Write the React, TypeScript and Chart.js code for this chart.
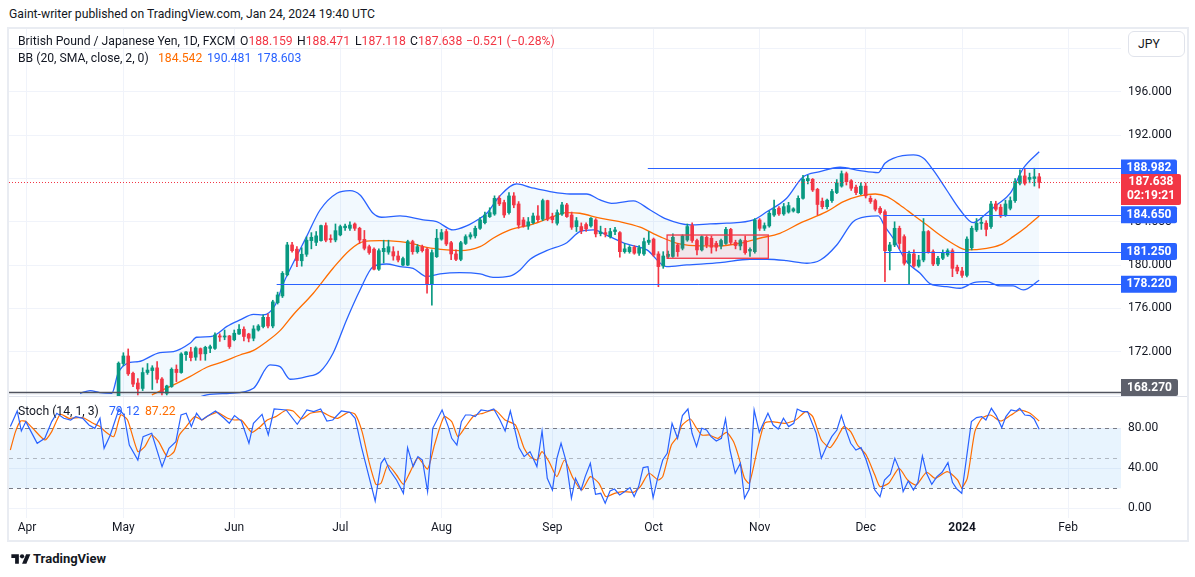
import React, { useEffect, useRef } from 'react';
import { Chart, registerables } from 'chart.js';

Chart.register(...registerables);

const FONT = 'Roboto, "Noto Sans", "DejaVu Sans", sans-serif';
const UP = '#089981';
const DOWN = '#f23645';
const BLUE = '#2962ff';
const ORANGE = '#ff6d00';
const TEXT = '#131722';
const GRID = '#f0f3fa';
const LEGEND_SIZE = 12.2;

// bar numbers (trading days counted from 27 Mar 2023); first visible candle is bar 24
const FIRST_BAR = 24;

const opens = [
  167.6, 170.9, 171.6, 170.0, 169.1, 168.6, 170.07, 170.25, 170.5, 169.47,
  168.15, 168.77, 170.37, 170.07, 171.72, 171.97, 171.49, 172.28, 171.8, 172.3,
  172.3, 173.45, 173.35, 173.45, 173.1, 173.63, 174.07, 173.63, 173.24, 174.0,
  174.32, 175.17, 174.37, 176.53, 177.15, 179.1, 181.86, 181.47, 180.4, 181.0,
  182.26, 182.1, 182.26, 183.65, 182.45, 182.32, 182.79, 183.45, 183.4, 183.8,
  183.4, 182.38, 181.7, 181.47, 179.62, 181.24, 181.2, 181.24, 180.84, 180.0,
  180.0, 182.17, 181.24, 181.7, 181.47, 178.26, 180.78, 182.4, 183.1, 182.07,
  181.03, 180.53, 182.0, 182.6, 182.7, 183.4, 183.92, 184.48, 184.72, 186.17,
  185.78, 184.85, 186.39, 185.65, 184.17, 183.6, 183.92, 184.54, 184.24, 185.96,
  184.5, 183.87, 184.72, 185.56, 184.63, 183.55, 183.56, 183.75, 183.62, 184.17,
  182.9, 183.0, 182.63, 183.1, 183.0, 181.24, 181.24, 181.65, 181.1, 181.03,
  182.1, 182.4, 181.03, 179.92, 180.8, 180.8, 181.86, 181.55, 182.32, 183.66,
  182.27, 181.4, 182.57, 182.48, 182.0, 181.77, 182.0, 183.3, 182.1, 181.77,
  182.27, 181.3, 181.24, 184.17, 183.4, 183.62, 184.63, 185.26, 184.73, 184.9,
  185.0, 184.85, 186.17, 187.8, 187.93, 187.0, 185.9, 185.4, 185.96, 186.7,
  187.3, 188.45, 187.8, 187.2, 186.6, 187.3, 186.17, 185.96, 185.25, 184.94,
  181.33, 181.86, 183.4, 182.63, 180.17, 181.03, 179.92, 180.47, 183.1, 181.24,
  180.1, 180.63, 180.94, 181.33, 179.8, 179.45, 179.05, 181.6, 183.25, 183.85,
  183.87, 183.56, 185.65, 185.35, 184.63, 185.25, 185.96, 187.56, 188.24, 187.93,
  188.0, 188.159,
];
const highs = [
  171.05, 171.9, 172.25, 170.1, 169.5, 170.5, 170.9, 170.7, 171.08, 169.6,
  168.9, 170.5, 170.77, 171.9, 172.0, 172.4, 172.45, 172.34, 172.5, 172.6,
  173.75, 173.65, 174.0, 173.5, 174.0, 174.5, 174.3, 173.7, 174.4, 174.5,
  175.4, 175.5, 176.75, 177.5, 179.4, 182.1, 182.1, 181.7, 181.6, 182.6,
  183.0, 183.1, 183.7, 183.9, 182.8, 183.8, 183.7, 183.8, 184.0, 183.9,
  183.5, 183.2, 181.85, 181.6, 181.5, 182.3, 182.3, 181.7, 181.3, 180.75,
  182.3, 182.3, 181.9, 181.85, 181.6, 181.4, 183.3, 183.3, 183.3, 182.2,
  181.4, 182.2, 182.8, 183.0, 183.6, 184.4, 184.9, 185.3, 186.4, 186.4,
  186.0, 186.7, 186.7, 185.87, 184.4, 184.4, 184.8, 185.5, 186.1, 186.0,
  184.8, 185.1, 185.8, 185.7, 184.9, 184.4, 183.9, 183.9, 184.4, 184.3,
  183.6, 183.4, 183.4, 183.5, 183.1, 182.0, 181.8, 181.8, 181.8, 182.5,
  183.1, 182.5, 181.24, 181.24, 181.3, 182.9, 182.0, 182.8, 183.8, 183.9,
  182.4, 182.7, 182.7, 182.7, 182.2, 182.4, 183.5, 183.4, 182.3, 182.4,
  182.7, 181.6, 184.3, 184.3, 183.9, 185.0, 186.0, 185.4, 185.7, 185.8,
  185.3, 186.4, 188.3, 188.3, 188.0, 187.1, 186.2, 186.1, 187.0, 187.9,
  188.7, 188.6, 187.9, 187.4, 187.6, 187.6, 186.4, 186.1, 185.4, 185.1,
  182.1, 184.0, 183.6, 182.8, 181.3, 181.4, 180.9, 184.3, 183.2, 181.4,
  180.8, 181.4, 181.5, 181.5, 180.0, 179.8, 182.6, 183.6, 184.3, 184.4,
  184.1, 185.9, 185.9, 185.6, 186.0, 186.3, 188.0, 188.8, 188.9, 188.5,
  188.95, 188.471,
];
const lows = [
  167.4, 170.7, 169.8, 168.77, 168.0, 168.4, 169.9, 168.5, 169.1, 168.0,
  168.0, 168.7, 169.23, 170.0, 171.2, 171.14, 171.2, 171.2, 171.2, 171.9,
  172.2, 172.95, 173.1, 172.3, 173.0, 173.6, 173.0, 172.9, 173.0, 173.9,
  174.2, 174.2, 174.2, 176.4, 177.0, 179.0, 181.2, 179.86, 179.9, 180.8,
  181.5, 181.8, 182.2, 182.15, 182.1, 182.15, 182.7, 183.2, 183.2, 183.2,
  182.0, 181.4, 181.0, 179.55, 179.5, 180.2, 181.0, 180.45, 180.3, 179.95,
  179.95, 181.0, 181.1, 181.2, 177.4, 176.3, 180.7, 182.3, 181.8, 180.5,
  180.4, 180.4, 181.9, 182.4, 182.5, 183.3, 183.8, 184.4, 184.6, 185.5,
  184.4, 184.7, 185.3, 183.4, 183.5, 183.3, 183.8, 184.0, 184.1, 184.1,
  183.9, 183.7, 184.6, 184.4, 183.3, 183.1, 182.9, 183.1, 183.5, 182.6,
  182.7, 182.6, 182.5, 182.8, 180.73, 181.1, 181.1, 181.0, 180.9, 180.9,
  181.9, 180.8, 178.0, 179.7, 180.6, 180.7, 180.8, 181.4, 182.2, 182.1,
  180.94, 181.3, 181.6, 181.1, 181.3, 181.5, 181.9, 181.9, 181.5, 181.4,
  181.0, 180.8, 181.1, 183.2, 183.2, 183.5, 184.5, 184.6, 184.6, 184.8,
  184.9, 184.8, 186.1, 187.5, 186.8, 184.63, 185.2, 185.2, 185.8, 186.6,
  187.2, 187.4, 186.9, 186.5, 186.5, 186.2, 185.7, 185.0, 184.7, 178.47,
  179.55, 181.7, 181.5, 180.0, 178.26, 179.8, 179.8, 180.3, 181.1, 179.95,
  179.95, 180.5, 180.8, 178.93, 179.2, 178.85, 178.9, 181.4, 183.1, 183.3,
  182.7, 183.4, 185.0, 184.4, 184.5, 185.1, 185.8, 187.4, 187.4, 187.6,
  187.3, 187.118,
];
const closes = [
  170.93, 171.6, 169.95, 169.0, 168.55, 170.07, 170.3, 170.5, 169.45, 168.2,
  168.83, 170.37, 170.07, 171.79, 171.97, 171.45, 172.34, 171.79, 172.4, 172.46,
  173.54, 173.35, 173.45, 172.47, 173.7, 174.07, 173.4, 173.24, 174.1, 174.37,
  175.17, 174.37, 176.6, 177.24, 179.24, 181.86, 181.33, 180.42, 181.0, 182.3,
  182.57, 182.7, 183.65, 182.3, 182.35, 183.18, 183.56, 183.6, 183.7, 183.4,
  182.32, 181.55, 181.16, 179.62, 181.33, 181.55, 181.7, 180.84, 180.47, 180.6,
  182.17, 181.24, 181.7, 181.33, 178.26, 181.15, 182.48, 183.0, 181.95, 181.03,
  180.53, 182.07, 182.63, 182.8, 183.4, 184.17, 184.63, 184.85, 186.17, 185.66,
  184.63, 186.39, 185.56, 183.7, 183.6, 184.0, 184.54, 184.2, 185.96, 184.24,
  184.2, 184.85, 185.56, 184.48, 183.5, 184.1, 183.18, 183.35, 184.33, 182.88,
  183.05, 182.85, 183.1, 183.25, 181.24, 181.5, 181.65, 181.1, 181.6, 182.17,
  182.3, 180.94, 179.86, 180.84, 181.0, 182.57, 181.24, 182.7, 183.56, 182.27,
  181.4, 182.63, 181.86, 181.65, 181.65, 182.27, 183.3, 182.1, 181.8, 182.27,
  181.15, 181.45, 184.17, 183.4, 183.65, 184.79, 185.16, 184.73, 185.4, 185.5,
  185.2, 186.17, 187.93, 188.0, 186.94, 185.6, 185.4, 186.0, 186.8, 187.6,
  188.45, 187.7, 187.1, 186.7, 187.3, 186.4, 185.87, 185.16, 184.85, 181.33,
  181.86, 183.4, 182.0, 180.17, 181.03, 179.92, 180.47, 183.1, 181.24, 180.1,
  180.63, 181.15, 181.33, 179.7, 179.45, 179.05, 182.4, 183.4, 183.87, 183.95,
  183.3, 185.65, 185.16, 184.54, 185.65, 185.96, 187.72, 188.24, 187.56, 188.1,
  188.16, 187.638,
];

// Bollinger Bands: [bar, price]
const bbUpper: [number, number][] = [
  [16.0, 168.15], [18.1, 168.39], [20.1, 168.21], [22.6, 168.15], [23.9, 170.0], [26.4, 171.0],
  [28.1, 171.07], [32.6, 171.91], [35.4, 172.0], [38.8, 172.77], [40.2, 173.33], [43.0, 173.38],
  [44.4, 173.63], [46.4, 174.31], [49.2, 174.93], [52.0, 175.45], [54.0, 175.39], [56.5, 176.31],
  [58.2, 178.32], [60.2, 180.17], [63.0, 182.63], [65.8, 185.09], [69.3, 186.64], [72.0, 186.88],
  [74.1, 186.48], [76.8, 184.79], [78.6, 184.42], [82.4, 184.54], [87.2, 184.17], [90.0, 184.01],
  [93.4, 183.25], [96.2, 183.62], [99.0, 184.33], [100.4, 184.79], [103.1, 186.39], [106.6, 187.5],
  [109.4, 187.19], [113.5, 186.79], [117.7, 186.57], [121.1, 186.57], [123.9, 186.02], [126.3, 185.71],
  [130.8, 185.93], [134.3, 185.09], [137.7, 184.24], [142.6, 183.71], [146.7, 183.8], [150.2, 183.87],
  [155.7, 184.17], [158.4, 184.9], [162.6, 186.18], [165.9, 188.1], [169.5, 188.63], [173.7, 189.04],
  [177.8, 188.73], [181.6, 188.54], [183.0, 189.41], [184.7, 189.87], [188.9, 190.18], [191.0, 189.87],
  [193.0, 188.79], [195.8, 186.94], [198.6, 185.09], [201.3, 183.92], [204.1, 184.79], [206.2, 185.56],
  [209.0, 186.64], [211.7, 188.95], [215.0, 190.481],
];
const bbBasis: [number, number][] = [
  [30.9, 168.0], [34.0, 168.62], [38.8, 169.69], [42.3, 170.56], [45.7, 171.07], [49.2, 171.69],
  [51.9, 172.09], [54.7, 172.92], [57.5, 173.94], [60.2, 175.39], [64.4, 177.4], [68.5, 179.71],
  [72.0, 181.4], [74.8, 182.16], [78.2, 182.26], [82.4, 182.16], [85.1, 181.95], [87.9, 181.64],
  [92.1, 181.4], [94.8, 181.33], [99.0, 181.7], [101.7, 182.48], [105.2, 183.25], [109.4, 183.71],
  [112.8, 184.24], [117.0, 184.85], [119.7, 184.79], [123.9, 184.33], [128.0, 184.01], [132.2, 183.5],
  [136.3, 182.63], [140.4, 181.95], [144.6, 181.77], [148.7, 181.77], [152.9, 182.02], [157.0, 182.48],
  [161.2, 182.94], [165.5, 183.9], [170.9, 184.94], [174.4, 185.86], [177.8, 186.39], [181.0, 186.57],
  [183.4, 186.32], [186.1, 185.56], [188.9, 184.63], [191.7, 183.71], [194.4, 182.78], [197.2, 181.95],
  [200.0, 181.4], [204.1, 181.55], [206.9, 181.86], [209.6, 182.63], [212.4, 183.55], [215.0, 184.542],
];
const bbLower: [number, number][] = [
  [16.0, 164.0], [30.0, 165.0], [42.3, 168.0], [47.1, 168.15], [52.0, 168.62], [55.4, 170.77],
  [57.5, 170.61], [59.6, 169.45], [63.0, 169.69], [65.8, 170.15], [68.5, 171.85], [71.3, 174.93],
  [74.1, 177.7], [76.8, 179.85], [79.6, 180.1], [82.4, 179.85], [85.1, 179.7], [87.9, 178.93],
  [90.7, 179.18], [94.8, 179.3], [99.0, 179.18], [101.7, 178.87], [105.2, 178.99], [107.3, 179.55],
  [109.4, 180.54], [112.8, 181.33], [117.0, 182.07], [119.7, 183.09], [122.5, 183.25], [125.9, 182.63],
  [129.4, 181.95], [133.6, 181.4], [137.7, 179.85], [141.9, 180.01], [148.8, 180.22], [155.0, 180.54],
  [158.5, 180.54], [162.6, 180.41], [166.8, 180.17], [169.6, 180.47], [173.0, 181.86], [176.4, 184.01],
  [179.2, 184.48], [181.6, 184.54], [183.0, 183.55], [184.7, 182.48], [187.5, 180.32], [190.3, 179.24],
  [192.4, 178.26], [195.8, 178.01], [198.6, 177.86], [201.4, 178.38], [204.1, 178.47], [206.9, 178.07],
  [209.6, 178.07], [211.7, 177.7], [215.0, 178.603],
];

// Stochastic (14, 1, 3): [bar, value]
const stochK: [number, number][] = [
  [1.55, 81.7], [2.98, 97.3], [3.83, 77.3], [4.77, 86.7], [5.84, 76.7], [7.12, 65.0], [8.7, 70.0],
  [10.13, 86.7], [11.2, 95.0], [12.63, 90.0], [14.06, 88.3], [15.14, 91.7], [16.57, 90.0], [17.86, 83.3],
  [19.07, 80.0], [20.15, 90.0], [21.0, 60.0], [22.29, 73.3], [24.08, 99.3], [25.15, 93.3], [26.23, 63.3],
  [28.0, 48.3], [29.09, 71.7], [30.88, 75.0], [33.02, 41.7], [34.45, 60.0], [35.89, 66.7], [36.96, 93.3],
  [38.03, 95.0], [39.1, 81.7], [40.18, 95.0], [41.25, 88.3], [42.32, 91.7], [44.11, 97.3], [45.9, 90.0],
  [46.97, 85.0], [48.05, 92.7], [49.48, 87.3], [51.05, 65.0], [51.98, 85.0], [53.77, 94.0], [55.06, 73.3],
  [56.27, 99.3], [58.78, 98.3], [61.07, 84.0], [63.07, 98.3], [64.5, 96.7], [65.93, 99.3], [67.22, 87.3],
  [68.44, 88.3], [70.22, 97.3], [72.01, 96.0], [73.09, 90.0], [74.37, 61.7], [75.95, 31.7], [77.24, 7.3],
  [78.45, 45.0], [79.17, 50.0], [80.24, 38.3], [81.67, 28.3], [83.1, 15.0], [83.96, 60.7], [85.11, 41.7],
  [86.11, 51.7], [87.04, 48.3], [88.11, 16.7], [89.18, 80.0], [91.12, 98.3], [92.4, 81.7], [93.12, 70.0],
  [94.19, 63.3], [95.12, 86.7], [95.98, 93.3], [97.05, 93.3], [97.98, 91.7], [99.2, 98.3], [100.63, 97.3],
  [101.84, 99.3], [103.13, 88.3], [104.2, 77.3], [105.28, 97.3], [105.99, 83.3], [107.07, 60.7], [108.14, 51.7],
  [109.36, 56.7], [110.79, 41.7], [111.86, 77.3], [112.94, 30.0], [114.01, 18.3], [114.94, 50.0], [115.8, 65.0],
  [116.87, 46.7], [117.95, 10.0], [118.8, 30.0], [119.95, 18.3], [120.81, 31.7], [121.88, 45.0], [122.95, 14.0],
  [124.03, 15.0], [124.96, 5.0], [125.96, 17.3], [126.89, 19.3], [127.96, 13.3], [129.03, 16.7], [130.11, 20.7],
  [130.97, 11.7], [131.9, 21.7], [132.83, 40.7], [133.83, 41.7], [134.9, 10.7], [135.83, 30.0], [136.9, 48.3],
  [137.83, 55.0], [138.83, 85.0], [139.98, 70.0], [140.98, 92.7], [142.13, 99.3], [142.98, 75.0], [143.91, 61.7],
  [144.99, 80.0], [145.99, 78.3], [146.92, 71.7], [148.0, 67.3], [149.07, 70.0], [149.92, 89.3], [150.85, 58.3],
  [151.93, 35.0], [153.0, 45.0], [153.86, 10.0], [154.86, 19.3], [155.86, 98.3], [156.93, 76.0], [158.72, 95.0],
  [159.8, 83.3], [160.87, 79.3], [161.94, 90.0], [163.02, 81.7], [164.09, 85.0], [164.8, 99.3], [165.88, 96.7],
  [166.95, 96.7], [168.74, 75.0], [169.81, 50.0], [170.88, 61.7], [171.96, 71.7], [173.03, 78.3], [173.96, 92.7],
  [175.03, 76.7], [175.89, 65.0], [176.97, 58.3], [178.04, 60.7], [179.11, 48.3], [180.18, 31.7], [180.9, 18.3],
  [181.97, 11.7], [182.9, 28.3], [184.12, 34.0], [185.05, 50.0], [185.91, 40.0], [186.77, 16.7], [187.84, 27.3],
  [188.91, 18.3], [189.84, 26.0], [190.77, 52.3], [191.63, 35.0], [192.71, 24.0], [193.78, 31.7], [194.85, 36.0],
  [196.07, 45.7], [197.0, 26.0], [197.93, 19.3], [198.93, 15.0], [199.86, 48.3], [200.93, 86.7], [202.01, 90.7],
  [203.08, 91.7], [203.94, 88.3], [205.08, 100.0], [206.09, 92.7], [207.23, 80.7], [208.09, 91.7], [209.16, 98.3],
  [210.23, 97.3], [210.95, 100.0], [212.02, 93.3], [213.1, 92.7], [213.95, 89.3], [215.0, 79.12],
];
const stochD: [number, number][] = [
  [1.55, 58.3], [2.62, 76.7], [3.69, 87.3], [4.77, 86.7], [6.2, 80.0], [8.7, 68.3], [10.13, 76.7],
  [11.92, 94.0], [13.71, 90.0], [16.57, 90.7], [18.72, 85.0], [20.15, 81.7], [21.22, 76.7], [23.01, 71.7],
  [24.44, 93.3], [25.87, 88.3], [28.0, 56.7], [29.45, 61.7], [30.88, 73.3], [32.31, 66.7], [34.1, 51.7],
  [35.53, 56.7], [36.6, 73.3], [38.03, 81.7], [39.82, 91.7], [41.25, 88.3], [42.32, 91.7], [44.47, 96.0],
  [46.62, 90.0], [48.05, 88.3], [49.48, 88.3], [51.62, 76.0], [53.41, 81.7], [54.84, 88.3], [56.63, 91.7],
  [58.78, 98.3], [60.21, 97.3], [62.0, 89.3], [63.79, 95.0], [65.93, 96.7], [68.08, 91.7], [69.51, 90.0],
  [71.66, 96.0], [73.09, 94.0], [74.52, 76.7], [75.95, 46.7], [77.38, 24.0], [78.45, 25.0], [79.88, 43.3],
  [81.67, 33.3], [83.1, 24.0], [84.53, 36.7], [86.11, 50.7], [88.11, 39.3], [89.54, 63.3], [91.54, 91.7],
  [93.12, 86.7], [94.4, 71.7], [95.98, 81.7], [97.77, 92.7], [99.56, 95.0], [102.06, 98.3], [104.2, 88.3],
  [106.35, 83.3], [108.14, 60.0], [109.36, 51.7], [110.79, 48.3], [111.86, 56.7], [113.3, 46.7], [114.94, 31.7],
  [116.51, 48.3], [118.3, 30.0], [120.09, 18.3], [121.88, 31.7], [123.67, 25.0], [125.1, 11.7], [126.89, 15.0],
  [128.68, 16.7], [130.82, 16.0], [132.25, 21.7], [134.04, 35.0], [135.97, 28.3], [136.9, 31.7], [138.69, 63.3],
  [139.98, 71.7], [140.84, 82.7], [142.63, 89.3], [143.7, 81.7], [144.99, 73.3], [146.56, 73.3], [148.35, 70.0],
  [150.14, 76.0], [151.57, 66.7], [152.64, 51.7], [153.86, 30.0], [154.86, 25.0], [156.58, 60.0], [158.01, 85.0],
  [159.44, 86.7], [162.3, 85.0], [164.45, 88.3], [166.59, 96.7], [168.02, 91.7], [169.81, 68.3], [171.6, 60.7],
  [173.03, 70.0], [174.46, 81.7], [175.89, 76.7], [177.32, 63.3], [179.11, 53.3], [180.9, 33.3], [181.97, 21.7],
  [183.76, 25.0], [185.91, 40.0], [187.7, 28.3], [189.48, 23.3], [191.63, 36.0], [193.42, 30.0], [195.92, 36.7],
  [198.07, 28.3], [198.93, 20.7], [200.08, 30.0], [201.65, 76.7], [203.08, 90.0], [204.87, 93.3], [207.02, 87.3],
  [209.16, 93.3], [210.95, 98.3], [213.1, 95.0], [215.0, 87.22],
];

const monthTickBars = [5, 25, 48, 70, 91, 114, 135, 157, 179, 199, 221];
const monthLabels = ['Apr', 'May', 'Jun', 'Jul', 'Aug', 'Sep', 'Oct', 'Nov', 'Dec', '2024', 'Feb'];
const priceTicks = [168, 172, 176, 180, 184, 188, 192, 196, 200];
const stochTicks = [0, 40, 80];

// drawings
const levelPrices = [188.982, 184.65, 181.25, 178.22];
const levelStartBars = [133.8, 182.8, 182.8, 56.8];
const basePrice = 168.27;
const lastPrice = 187.638;
const countdown = '02:19:21';
const rangeBoxBars = [137.8, 158.8];
const rangeBoxPrices = [180.63, 182.78];

const X_MIN = 1.27;
const X_MAX = 231.97;
const P_MIN = 167.9;
const P_MAX = 201.82;
const S_MIN = -9.7;
const S_MAX = 111.3;
const AXIS_W = 66;

const noPad = (s: any) => {
  s.paddingTop = 0;
  s.paddingBottom = 0;
  s.paddingLeft = 0;
  s.paddingRight = 0;
};

const pts = (arr: [number, number][]) => arr.map(([x, y]) => ({ x, y }));

function hline(ctx: CanvasRenderingContext2D, x1: number, x2: number, y: number) {
  const yy = Math.round(y) + 0.5;
  ctx.beginPath();
  ctx.moveTo(x1, yy);
  ctx.lineTo(x2, yy);
  ctx.stroke();
}

function axisBox(ctx: CanvasRenderingContext2D, left: number, top: number, w: number, h: number, bg: string, lines: string[]) {
  ctx.fillStyle = bg;
  ctx.beginPath();
  const r = 2;
  ctx.moveTo(left, top);
  ctx.lineTo(left + w - r, top);
  ctx.quadraticCurveTo(left + w, top, left + w, top + r);
  ctx.lineTo(left + w, top + h - r);
  ctx.quadraticCurveTo(left + w, top + h, left + w - r, top + h);
  ctx.lineTo(left, top + h);
  ctx.closePath();
  ctx.fill();
  ctx.fillStyle = '#ffffff';
  ctx.font = `bold 12px ${FONT}`;
  ctx.textAlign = 'center';
  ctx.textBaseline = 'middle';
  lines.forEach((t, i) => {
    ctx.fillText(t, left + w / 2, top + 8.5 + i * 14);
  });
}

const priceDrawings = {
  id: 'priceDrawings',
  afterDatasetsDraw(chart: any) {
    const { ctx, chartArea: a, scales } = chart;
    const x = scales.x;
    const y = scales.y;
    ctx.save();
    ctx.beginPath();
    ctx.rect(a.left, a.top, a.right - a.left, a.bottom - a.top);
    ctx.clip();
    const bx1 = x.getPixelForValue(rangeBoxBars[0]);
    const bx2 = x.getPixelForValue(rangeBoxBars[1]);
    const by1 = y.getPixelForValue(rangeBoxPrices[1]);
    const by2 = y.getPixelForValue(rangeBoxPrices[0]);
    ctx.fillStyle = 'rgba(242,54,69,0.1)';
    ctx.fillRect(bx1, by1, bx2 - bx1, by2 - by1);
    ctx.strokeStyle = '#f23645';
    ctx.lineWidth = 1.3;
    ctx.strokeRect(bx1, by1, bx2 - bx1, by2 - by1);
    ctx.lineWidth = 1;
    ctx.strokeStyle = BLUE;
    levelPrices.forEach((p, i) => {
      hline(ctx, x.getPixelForValue(levelStartBars[i]), a.right, y.getPixelForValue(p));
    });
    ctx.strokeStyle = '#50535e';
    ctx.lineWidth = 1.5;
    hline(ctx, a.left, a.right, y.getPixelForValue(basePrice));
    ctx.strokeStyle = DOWN;
    ctx.lineWidth = 1;
    ctx.setLineDash([1, 2]);
    hline(ctx, a.left, a.right, y.getPixelForValue(lastPrice));
    ctx.restore();
  },
  afterDraw(chart: any) {
    const { ctx, chartArea: a, scales } = chart;
    const y = scales.y;
    ctx.save();
    levelPrices.forEach((p) => {
      const py = y.getPixelForValue(p);
      axisBox(ctx, a.right, py - 8.5, 56, 17, BLUE, [p.toFixed(3)]);
    });
    const ly = y.getPixelForValue(lastPrice);
    axisBox(ctx, a.right, ly - 8.5, 60, 31, DOWN, [lastPrice.toFixed(3), countdown]);
    const byy = Math.min(y.getPixelForValue(basePrice) - 8.5, a.bottom - 17);
    axisBox(ctx, a.right, byy, 57, 17, '#5d606b', [basePrice.toFixed(3)]);
    ctx.restore();
  },
};

const stochBands = {
  id: 'stochBands',
  beforeDatasetsDraw(chart: any) {
    const { ctx, chartArea: a, scales } = chart;
    const y = scales.y;
    const y80 = y.getPixelForValue(80);
    const y20 = y.getPixelForValue(20);
    const y50 = y.getPixelForValue(50);
    ctx.save();
    ctx.fillStyle = 'rgba(33,150,243,0.1)';
    ctx.fillRect(a.left, y80, a.right - a.left, y20 - y80);
    ctx.lineWidth = 1;
    ctx.setLineDash([4, 4]);
    ctx.strokeStyle = '#787b86';
    hline(ctx, a.left, a.right, y80);
    hline(ctx, a.left, a.right, y20);
    ctx.strokeStyle = 'rgba(120,123,134,0.5)';
    hline(ctx, a.left, a.right, y50);
    ctx.restore();
  },
};

export default function App() {
  const priceRef = useRef<HTMLCanvasElement>(null);
  const stochRef = useRef<HTMLCanvasElement>(null);

  useEffect(() => {
    Chart.defaults.font.family = FONT;
    const bodies = opens.map((o, i) => ({ x: FIRST_BAR + i, y: [o, closes[i]] }));
    const wicks = opens.map((o, i) => ({ x: FIRST_BAR + i, y: [lows[i], highs[i]] }));
    const colors = opens.map((o, i) => (closes[i] >= o ? UP : DOWN));

    const price = new Chart(priceRef.current as HTMLCanvasElement, {
      type: 'bar',
      data: {
        datasets: [
          {
            type: 'line', data: pts(bbUpper), borderColor: BLUE, borderWidth: 1.3, pointRadius: 0,
            fill: '+1', backgroundColor: 'rgba(33,150,243,0.06)', cubicInterpolationMode: 'monotone', order: 5,
          } as any,
          {
            type: 'line', data: pts(bbLower), borderColor: BLUE, borderWidth: 1.3, pointRadius: 0,
            fill: false, cubicInterpolationMode: 'monotone', order: 5,
          } as any,
          {
            type: 'line', data: pts(bbBasis), borderColor: ORANGE, borderWidth: 1.3, pointRadius: 0,
            fill: false, cubicInterpolationMode: 'monotone', order: 4,
          } as any,
          {
            type: 'bar', data: wicks, backgroundColor: colors, barThickness: 1, grouped: false, order: 1,
            borderWidth: 0,
          } as any,
          {
            type: 'bar', data: bodies, backgroundColor: colors, barThickness: 3, grouped: false, order: 0,
            minBarLength: 1, borderWidth: 0,
          } as any,
        ],
      },
      options: {
        animation: false,
        responsive: false,
        maintainAspectRatio: false,
        events: [],
        layout: { padding: 0, autoPadding: false } as any,
        plugins: { legend: { display: false }, tooltip: { enabled: false } },
        scales: {
          x: {
            type: 'linear', min: X_MIN, max: X_MAX, offset: false,
            grid: { color: GRID, drawTicks: false, offset: false } as any,
            border: { display: false },
            ticks: { display: false },
            afterBuildTicks: (s: any) => { s.ticks = monthTickBars.map((v) => ({ value: v })); },
            afterFit: (s: any) => { s.height = 0; noPad(s); },
          },
          y: {
            position: 'right', min: P_MIN, max: P_MAX,
            grid: { color: GRID, drawTicks: false },
            border: { display: false },
            ticks: {
              padding: 7, color: TEXT, font: { size: 12, family: FONT },
              callback: (v: any) => (Number(v) === 200 ? '' : Number(v).toFixed(3)),
            },
            afterBuildTicks: (s: any) => { s.ticks = priceTicks.map((v) => ({ value: v })); },
            afterFit: (s: any) => { s.width = AXIS_W; noPad(s); },
          },
        },
      } as any,
      plugins: [priceDrawings],
    });

    const stoch = new Chart(stochRef.current as HTMLCanvasElement, {
      type: 'line',
      data: {
        datasets: [
          { data: pts(stochK), borderColor: BLUE, borderWidth: 1.2, pointRadius: 0, tension: 0, fill: false },
          { data: pts(stochD), borderColor: ORANGE, borderWidth: 1.2, pointRadius: 0, tension: 0.2, fill: false },
        ],
      },
      options: {
        animation: false,
        responsive: false,
        maintainAspectRatio: false,
        events: [],
        layout: { padding: 0, autoPadding: false } as any,
        plugins: { legend: { display: false }, tooltip: { enabled: false } },
        scales: {
          x: {
            type: 'linear', min: X_MIN, max: X_MAX, offset: false,
            grid: { color: GRID, drawTicks: false },
            border: { display: false },
            ticks: {
              autoSkip: false, maxRotation: 0, padding: 3, color: TEXT,
              font: (c: any) => ({ size: 12, family: FONT, weight: c.index === 9 ? 'bold' : 'normal' }),
              callback: (_v: any, i: number) => monthLabels[i],
            },
            afterBuildTicks: (s: any) => { s.ticks = monthTickBars.map((v) => ({ value: v })); },
            afterFit: (s: any) => { s.height = 24; noPad(s); },
          },
          y: {
            position: 'right', min: S_MIN, max: S_MAX,
            grid: { color: GRID, drawTicks: false },
            border: { display: false },
            ticks: {
              padding: 7, color: TEXT, font: { size: 12, family: FONT },
              callback: (v: any) => Number(v).toFixed(2),
            },
            afterBuildTicks: (s: any) => { s.ticks = stochTicks.map((v) => ({ value: v })); },
            afterFit: (s: any) => { s.width = AXIS_W; noPad(s); },
          },
        },
      } as any,
      plugins: [stochBands],
    });

    return () => {
      price.destroy();
      stoch.destroy();
    };
  }, []);

  const txt = (left: number, cy: number, size: number, color: string, content: React.ReactNode, weight: any = 400) => (
    <div
      style={{
        position: 'absolute', left, top: cy - 9, height: 18, lineHeight: '18px', fontSize: size,
        color, fontWeight: weight, whiteSpace: 'nowrap', fontFamily: FONT,
      }}
    >
      {content}
    </div>
  );

  return (
    <div
      style={{
        position: 'fixed', left: 0, top: 0, width: 1195, height: 577, background: '#ffffff',
        overflow: 'hidden', fontFamily: FONT, color: TEXT,
      }}
    >
      {txt(9, 14, LEGEND_SIZE, TEXT, 'Gaint-writer published on TradingView.com, Jan 24, 2024 19:40 UTC')}
      <div
        style={{
          position: 'absolute', left: 7, top: 27, width: 1182, height: 515, boxSizing: 'border-box',
          border: '2px solid #e9ecf2',
        }}
      />
      <canvas
        ref={priceRef}
        width={1178}
        height={367}
        style={{ position: 'absolute', left: 9, top: 29, width: 1178, height: 367 }}
      />
      <div style={{ position: 'absolute', left: 9, top: 396, width: 1178, height: 1, background: '#e0e3eb' }} />
      <canvas
        ref={stochRef}
        width={1178}
        height={145}
        style={{ position: 'absolute', left: 9, top: 397, width: 1178, height: 145 }}
      />

      {txt(18, 41, LEGEND_SIZE, TEXT, 'British Pound / Japanese Yen, 1D, FXCM')}
      {txt(240, 41, LEGEND_SIZE, TEXT, <span>O<span style={{ color: DOWN }}>188.159</span></span>)}
      {txt(297, 41, LEGEND_SIZE, TEXT, <span>H<span style={{ color: DOWN }}>188.471</span></span>)}
      {txt(355, 41, LEGEND_SIZE, TEXT, <span>L<span style={{ color: DOWN }}>187.118</span></span>)}
      {txt(410, 41, LEGEND_SIZE, TEXT, <span>C<span style={{ color: DOWN }}>187.638</span></span>)}
      {txt(466, 41, LEGEND_SIZE, DOWN, '\u22120.521 (\u22120.28%)')}

      {txt(18, 58, LEGEND_SIZE, TEXT, 'BB (20, SMA, close, 2, 0)')}
      {txt(158, 58, LEGEND_SIZE, ORANGE, '184.542')}
      {txt(207, 58, LEGEND_SIZE, BLUE, '190.481')}
      {txt(257, 58, LEGEND_SIZE, BLUE, '178.603')}

      {txt(18, 411, LEGEND_SIZE, TEXT, 'Stoch (14, 1, 3)')}
      {txt(109, 411, LEGEND_SIZE, BLUE, '79.12')}
      {txt(145, 411, LEGEND_SIZE, ORANGE, '87.22')}

      <div
        style={{
          position: 'absolute', left: 1128, top: 31, width: 57, height: 26, boxSizing: 'border-box',
          border: '1px solid #e0e3eb', borderRadius: 6, fontSize: LEGEND_SIZE, lineHeight: '24px', paddingLeft: 9,
          color: TEXT, background: '#fff',
        }}
      >
        JPY
      </div>

      <svg style={{ position: 'absolute', left: 11, top: 552 }} width={20} height={15} viewBox="0 0 36 28">
        <path d="M14 22H7V11H0V4h14v18z" fill={TEXT} />
        <circle cx={20} cy={8} r={4} fill={TEXT} />
        <path d="M28 22h-8l7.5-18h8L28 22z" fill={TEXT} />
      </svg>
      {txt(33, 559, 13, TEXT, 'TradingView', 700)}
    </div>
  );
}
